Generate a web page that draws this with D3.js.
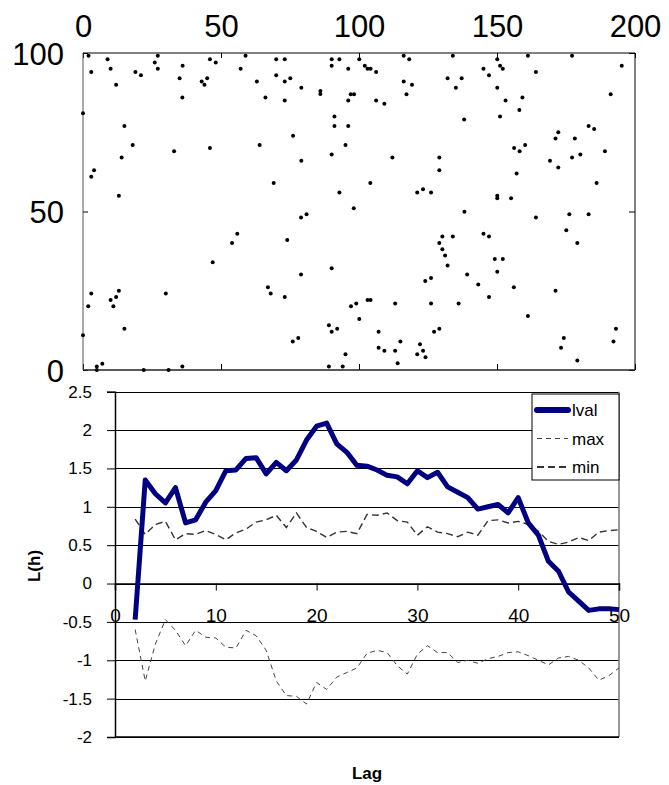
<!DOCTYPE html>
<html lang="en">
<head>
<meta charset="UTF-8">
<title>Points and L(h)</title>
<script src="https://cdn.jsdelivr.net/npm/d3@7"></script>
<style>
  body { margin: 0; background: #fff; }
  svg { display: block; font-family: Arial, "Liberation Sans", sans-serif; }
</style>
</head>
<body>
<div id="chart"></div>
<script>
// scatter points [x, y]
var pointsX = [2,3,0,8.9,10,12,19,21,26,27.1,27.1,36.1,35,36,46,48.1,43,44,45,57.1,58.9,63,66.1,70,73.1,70,73.1,75.1,73.1,79.1,86,86,90.1,90.1,92.9,15,18,14,4,3,33,46,13,64,76.1,79.1,69.1,91.1,91.1,90.1,92.9,
  100.1,96.1,102.1,103.1,104.2,106.2,116.2,118.2,116.2,119.2,117.2,97,98.2,96.1,106.2,109.2,96.1,95.1,134,132.1,135.1,137.2,138.1,112.1,104.1,121.1,123.2,126.1,129.1,129.1,145.1,147.1,150.1,151.1,152.1,150.1,161.2,164.1,153.1,159.2,158.1,151.1,177.2,195.2,191.2,183.2,185.2,172.2,171.2,178.2,156.2,158.2,160.2,177.2,180.2,189.1,169.2,172.2,157.1,186.1,150.1,150.1,155.1,
  79,81,55.9,54,74,47,79,90.1,3,1.9,13,12,10,11,30,67,68,73.1,15,0,76,78,89.1,90.1,92.1,5,5,7,22,31,36,89.1,
  98.1,138.2,164.1,176.2,183.2,175.1,179.1,130.2,134,129.1,130.2,131.2,132.1,145.1,147.1,149.2,152.1,150.1,139.2,143.2,156.1,147.1,171.2,124,126.1,97.1,99,103.1,104.2,100.1,113.1,126.1,136.1,107.1,107.1,109.2,115,113.1,114,122.1,121.1,123.2,124.1,127.2,129.1,95.1,94.1,161.2,174.2,173.2,179.1,193.1,192.2];
var pointsY = [99.1,94,81,98,95,90,94,93,97,99.1,95,96,92,86,98,97,91,90,92,95,99.1,91,86,98,98,93,91,92,85,89,88,87.1,98,96,98,77,71,67,63,61,69,70,55,71,73.9,66,59,80,77,68,56,
  98,95,96,95,95,94,99.1,98,91,90,87,87,87,85,85,84,77,71,99.1,92,89,92,79,67,59,56,57,56,67,63,95,93,98,96,95,89,99.1,94,85,86,82,80,99.1,96,87,77,76,75,73,73,70,69,71,67,68,69,66,63.9,62,59,55,54.2,54.2,
  48.1,49.1,43,40.1,41,34,30.1,32.1,24.1,20.1,25,23,22.1,20.1,24.1,26.1,24.1,23,13,11,9,10.1,14.1,12.1,13,1.1,0,2,0,0,1.1,1.1,
  51,49.9,48.1,49.1,49.1,44.1,40.1,42.1,42.1,40.1,38.1,36.1,33,43,42.1,35,35,31,30.1,27,26.1,23,25,28.1,29,20.1,21,22.1,22.1,16.1,21,21,21,12.1,7,6.1,9,6.1,2.1,8.1,5,6.1,4,12.1,13,5,1.1,17,10.1,7,3,13,9];
var scatterXTicks = [0, 50, 100, 150, 200];
var scatterYTicks = [0, 50, 100];

// L(h) by lag
var lags = d3.range(2, 51);
var lval = [-0.47,1.35,1.17,1.05,1.25,0.79,0.83,1.06,1.21,1.47,1.48,1.63,1.64,1.43,1.58,1.47,1.61,1.87,2.05,2.09,1.82,1.71,1.54,1.53,1.48,1.41,1.39,1.30,1.47,1.38,1.45,1.26,1.19,1.12,0.97,1.00,1.03,0.92,1.12,0.79,0.63,0.29,0.16,-0.11,-0.23,-0.35,-0.33,-0.33,-0.34];
var maxLine = [-0.60,-1.27,-0.79,-0.47,-0.61,-0.81,-0.61,-0.70,-0.71,-0.83,-0.84,-0.61,-0.68,-0.87,-1.27,-1.46,-1.47,-1.57,-1.29,-1.38,-1.22,-1.16,-1.10,-0.91,-0.87,-0.90,-1.07,-1.18,-0.92,-0.81,-0.90,-0.90,-1.03,-1.00,-1.04,-0.98,-0.95,-0.90,-0.89,-0.94,-1.00,-1.06,-0.97,-0.95,-1.00,-1.10,-1.26,-1.20,-1.10];
var minLine = [0.84,0.64,0.77,0.81,0.57,0.65,0.64,0.69,0.64,0.57,0.66,0.71,0.80,0.83,0.89,0.73,0.92,0.73,0.68,0.60,0.67,0.68,0.65,0.90,0.89,0.92,0.82,0.80,0.63,0.74,0.67,0.65,0.61,0.67,0.63,0.82,0.83,0.79,0.81,0.77,0.68,0.55,0.51,0.54,0.60,0.56,0.67,0.69,0.70];
var lagTicks = [0, 10, 20, 30, 40, 50];
var lTicks = [-2, -1.5, -1, -0.5, 0, 0.5, 1, 1.5, 2, 2.5];
var legendNames = ['lval', 'max', 'min'];

var svg = d3.select('#chart').append('svg')
  .attr('width', 669).attr('height', 785);

// ---------- scatter ----------
var sx = d3.scaleLinear().domain([0, 200]).range([83, 635]);
var sy = d3.scaleLinear().domain([0, 100]).range([370, 53]);

var topAx = svg.append('g').attr('transform', 'translate(0,53)')
  .call(d3.axisTop(sx).tickValues(scatterXTicks).tickSize(-5).tickPadding(16));
var bottomAx = svg.append('g').attr('transform', 'translate(0,370)')
  .call(d3.axisBottom(sx).tickValues(scatterXTicks).tickSize(-6).tickFormat(''));
var leftAx = svg.append('g').attr('transform', 'translate(83,0)')
  .call(d3.axisLeft(sy).tickValues(scatterYTicks).tickSize(-5).tickPadding(19));
var rightAx = svg.append('g').attr('transform', 'translate(635,0)')
  .call(d3.axisRight(sy).tickValues(scatterYTicks).tickSize(-6).tickFormat(''));

[topAx, bottomAx, leftAx, rightAx].forEach(function(g){
  g.select('.domain').remove();
  g.selectAll('line').attr('stroke', '#000');
  g.selectAll('text').attr('font-size', 31).attr('fill', '#000')
    .attr('font-family', 'Arial, "Liberation Sans", sans-serif');
});
topAx.selectAll('text').attr('dy', 0);
leftAx.selectAll('text').attr('dy', '0.36em');

svg.append('line').attr('x1', sx(0)).attr('x2', sx(200)).attr('y1', sy(100)).attr('y2', sy(100))
  .attr('stroke', '#000').attr('stroke-width', 1);
svg.append('line').attr('x1', sx(200)).attr('x2', sx(200)).attr('y1', sy(100)).attr('y2', sy(0))
  .attr('stroke', '#000').attr('stroke-width', 1);
svg.append('line').attr('x1', sx(0)).attr('x2', sx(200)).attr('y1', sy(0)).attr('y2', sy(0))
  .attr('stroke', '#222').attr('stroke-width', 1.5);
svg.append('line').attr('x1', sx(0)).attr('x2', sx(0)).attr('y1', sy(100)).attr('y2', sy(0))
  .attr('stroke', '#555').attr('stroke-width', 1);

svg.append('g').selectAll('circle').data(pointsX).enter().append('circle')
  .attr('cx', function(d){ return sx(d); })
  .attr('cy', function(d, i){ return sy(pointsY[i]); })
  .attr('r', 2)
  .attr('fill', '#000');

// ---------- L(h) line chart ----------
var lx = d3.scaleLinear().domain([0, 50]).range([115, 619]);
var ly = d3.scaleLinear().domain([-2, 2.5]).range([737, 391.7]);

// grid
svg.append('g').selectAll('line').data(lTicks).enter().append('line')
  .attr('x1', lx(0)).attr('x2', lx(50))
  .attr('y1', function(d){ return Math.round(ly(d)) + 0.5; })
  .attr('y2', function(d){ return Math.round(ly(d)) + 0.5; })
  .attr('stroke', '#000').attr('stroke-width', 1);
svg.append('line').attr('x1', lx(50)).attr('x2', lx(50)).attr('y1', ly(2.5)).attr('y2', ly(-2))
  .attr('stroke', '#777').attr('stroke-width', 1.5);
svg.append('line').attr('x1', lx(0)).attr('x2', lx(50)).attr('y1', ly(-2)).attr('y2', ly(-2))
  .attr('stroke', '#000').attr('stroke-width', 1.5);

var yAx = svg.append('g').attr('transform', 'translate(' + lx(0) + ',0)')
  .call(d3.axisLeft(ly).tickValues(lTicks).tickSize(8).tickPadding(15)
    .tickFormat(function(d){ return String(d); }));
yAx.select('.domain').attr('stroke', '#000').attr('stroke-width', 1.5);
yAx.selectAll('text').attr('font-size', 17).attr('fill', '#000')
  .attr('font-family', 'Arial, "Liberation Sans", sans-serif');

var xAx = svg.append('g').attr('transform', 'translate(0,' + ly(0) + ')')
  .call(d3.axisBottom(lx).tickValues(lagTicks).tickSize(7).tickPadding(18));
xAx.select('.domain').attr('stroke', '#000').attr('stroke-width', 1.5);
xAx.selectAll('text').attr('font-size', 19).attr('fill', '#000')
  .attr('font-family', 'Arial, "Liberation Sans", sans-serif');

var line = function(vals){
  return d3.line()
    .x(function(d, i){ return lx(lags[i]); })
    .y(function(d){ return ly(d); })(vals);
};

svg.append('path').attr('d', line(maxLine)).attr('fill', 'none')
  .attr('stroke', '#444').attr('stroke-width', 1).attr('stroke-dasharray', '5,4');
svg.append('path').attr('d', line(minLine)).attr('fill', 'none')
  .attr('stroke', '#333').attr('stroke-width', 1.4).attr('stroke-dasharray', '7,4');
svg.append('path').attr('d', line(lval)).attr('fill', 'none')
  .attr('stroke', '#000080').attr('stroke-width', 5).attr('stroke-linejoin', 'round');

svg.append('text').attr('transform', 'translate(40,566) rotate(-90)')
  .attr('text-anchor', 'middle').attr('font-size', 17).attr('font-weight', 'bold')
  .text('L(h)');
svg.append('text').attr('x', 367).attr('y', 779)
  .attr('text-anchor', 'middle').attr('font-size', 17).attr('font-weight', 'bold')
  .text('Lag');

// legend
var lg = svg.append('g').attr('transform', 'translate(532,394)');
lg.append('rect').attr('width', 87).attr('height', 86)
  .attr('fill', '#fff').attr('stroke', '#000').attr('stroke-width', 1);
var styles = [
  {stroke: '#000080', w: 6, dash: null},
  {stroke: '#444', w: 1, dash: '5,4'},
  {stroke: '#333', w: 1.8, dash: '7,4'}
];
var items = lg.selectAll('g.item').data(legendNames).enter().append('g')
  .attr('transform', function(d, i){ return 'translate(0,' + (16 + i * 28.5) + ')'; });
items.append('line').attr('x1', 5).attr('x2', 36).attr('y1', 0).attr('y2', 0)
  .attr('stroke', function(d, i){ return styles[i].stroke; })
  .attr('stroke-width', function(d, i){ return styles[i].w; })
  .attr('stroke-dasharray', function(d, i){ return styles[i].dash; })
  .attr('stroke-linecap', function(d, i){ return i === 0 ? 'round' : 'butt'; });
items.append('text').attr('x', 40).attr('dy', '0.36em')
  .attr('font-size', 17).text(function(d){ return d; });
</script>
</body>
</html>
